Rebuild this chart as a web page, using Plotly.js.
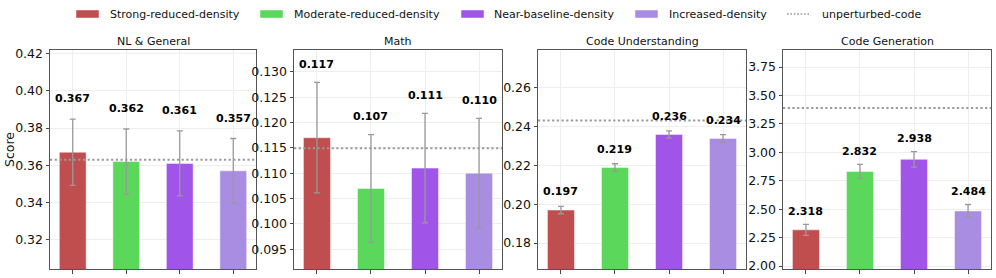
<!DOCTYPE html>
<html>
<head>
<meta charset="utf-8">
<script src="https://cdn.plot.ly/plotly-3.0.1.min.js"></script>
<style>html,body{margin:0;padding:0;background:#fff;}#chart{width:996px;height:278px;}</style>
</head>
<body>
<div id="chart"></div>
<script>
// ---- data ----
const categories = ["Strong-reduced-density", "Moderate-reduced-density", "Near-baseline-density", "Increased-density"];
const panelTitles = ["NL & General", "Math", "Code Understanding", "Code Generation"];
const nlValues = [0.367, 0.362, 0.361, 0.357];
const nlErrors = [0.0178, 0.0175, 0.0175, 0.0174];
const mathValues = [0.117, 0.107, 0.111, 0.110];
const mathErrors = [0.0109, 0.0106, 0.0108, 0.0108];
const cuValues = [0.197, 0.219, 0.236, 0.234];
const cuErrors = [0.0019, 0.0019, 0.0019, 0.0019];
const cgValues = [2.318, 2.832, 2.938, 2.484];
const cgErrors = [0.048, 0.062, 0.068, 0.057];
const unperturbed = [0.3630, 0.1149, 0.2432, 3.39];
const baselineLabel = "unperturbed-code";

// ---- styling ----
const colors = ["#c14e4e", "#5bd75b", "#a155e8", "#a98de2"];
const values = [nlValues, mathValues, cuValues, cgValues];
const errors = [nlErrors, mathErrors, cuErrors, cgErrors];
const yRanges = [[0.3042, 0.4220], [0.0911, 0.1343], [0.1666, 0.2796], [1.9736, 3.90]];
const yDticks = [0.02, 0.005, 0.02, 0.25];
const yFormats = [".2f", ".3f", ".2f", ".2f"];
const labelShift = [20.4, 18, 14.5, 12.7];
const W = 996, H = 278;
const xDomainsPx = [[50, 256], [294, 502], [538, 746], [783, 991]];
const yTopPx = 50, yBotPx = 269;
const FONT = "DejaVu Sans, Liberation Sans, sans-serif";

const traces = [];
const layout = {
  width: W, height: H,
  margin: {l: 0, r: 0, t: 0, b: 0},
  paper_bgcolor: "#ffffff", plot_bgcolor: "#ffffff",
  font: {family: FONT, color: "#111", size: 12},
  showlegend: false,
  bargap: 0.5,
  annotations: [], shapes: []
};

const yDom = [(H - yBotPx) / H, (H - yTopPx) / H];

for (let p = 0; p < 4; p++) {
  const sfx = p === 0 ? "" : String(p + 1);
  const xa = "x" + sfx, ya = "y" + sfx;
  traces.push({
    type: "bar",
    x: categories, y: values[p],
    xaxis: xa, yaxis: ya,
    width: 0.5,
    marker: {color: colors, line: {color: "rgba(255,255,255,0.45)", width: 1}},
    error_y: {type: "data", array: errors[p], visible: true, color: "#999999", thickness: 1.3, width: 3},
    hoverinfo: "skip"
  });
  layout["xaxis" + sfx] = {
    domain: [xDomainsPx[p][0] / W, xDomainsPx[p][1] / W],
    anchor: ya,
    type: "category",
    range: [-0.425, 3.425],
    showticklabels: false,
    ticks: "outside", ticklen: 3.5, tickwidth: 1, tickcolor: "#444",
    showgrid: true, gridcolor: "#eeeeee", gridwidth: 1,
    showline: true, mirror: true, linecolor: "#555", linewidth: 1,
    zeroline: false, fixedrange: true
  };
  layout["yaxis" + sfx] = {
    domain: yDom,
    anchor: xa,
    range: yRanges[p],
    dtick: yDticks[p], tick0: 0,
    tickformat: yFormats[p],
    ticks: "outside", ticklen: 3.5, tickwidth: 1, tickcolor: "#444",
    tickfont: {family: FONT, size: 12.5, color: "#111"},
    showgrid: true, gridcolor: "#eeeeee", gridwidth: 1,
    showline: true, mirror: true, linecolor: "#555", linewidth: 1,
    zeroline: false, fixedrange: true
  };
  // baseline dotted line
  layout.shapes.push({
    type: "line", xref: xa + " domain", yref: ya,
    x0: 0, x1: 1, y0: unperturbed[p], y1: unperturbed[p],
    line: {color: "#999999", width: 2, dash: "2.2px,2.5px"}
  });
  // panel title
  layout.annotations.push({
    xref: "paper", yref: "paper",
    x: (xDomainsPx[p][0] + xDomainsPx[p][1]) / 2 / W,
    y: (H - 41.5) / H,
    text: panelTitles[p], showarrow: false,
    xanchor: "center", yanchor: "middle",
    font: {family: FONT, size: 11, color: "#111"}
  });
  // bar value labels
  for (let i = 0; i < categories.length; i++) {
    layout.annotations.push({
      xref: xa, yref: ya,
      x: categories[i], y: values[p][i] + errors[p][i],
      yshift: labelShift[p],
      text: "<b>" + values[p][i].toFixed(3) + "</b>",
      showarrow: false, xanchor: "center", yanchor: "middle",
      font: {family: FONT, size: 11, color: "#000"}
    });
  }
}

// y axis label
layout.annotations.push({
  xref: "paper", yref: "paper", x: 9 / W, y: (H - 150) / H,
  text: "Score", textangle: -90, showarrow: false,
  xanchor: "center", yanchor: "middle",
  font: {family: FONT, size: 12.5, color: "#111"}
});

// custom legend
const legSwatchX = [76, 260, 461, 635];
const legTextX = [108, 292, 492, 667];
const legY = 14;
for (let i = 0; i < categories.length; i++) {
  layout.shapes.push({
    type: "rect", xref: "paper", yref: "paper",
    x0: legSwatchX[i] / W, x1: (legSwatchX[i] + 23) / W,
    y0: (H - 18) / H, y1: (H - 10) / H,
    fillcolor: colors[i], line: {color: "rgba(255,255,255,0.45)", width: 1}
  });
  layout.annotations.push({
    xref: "paper", yref: "paper", x: legTextX[i] / W, y: (H - legY) / H,
    text: categories[i], showarrow: false, xanchor: "left", yanchor: "middle",
    font: {family: FONT, size: 11, color: "#111"}
  });
}
layout.shapes.push({
  type: "line", xref: "paper", yref: "paper",
  x0: 787 / W, x1: 811 / W, y0: (H - legY) / H, y1: (H - legY) / H,
  line: {color: "#999999", width: 1.5, dash: "1.6px,1.8px"}
});
layout.annotations.push({
  xref: "paper", yref: "paper", x: 820 / W, y: (H - legY) / H,
  text: baselineLabel, showarrow: false, xanchor: "left", yanchor: "middle",
  font: {family: FONT, size: 11, color: "#111"}
});

Plotly.newPlot("chart", traces, layout, {staticPlot: true, displayModeBar: false});
</script>
</body>
</html>
